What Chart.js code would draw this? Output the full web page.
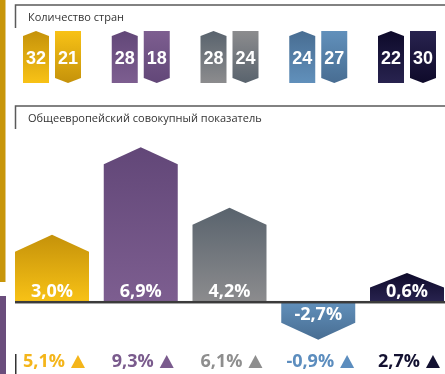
<!DOCTYPE html>
<html lang="ru">
<head>
<meta charset="utf-8">
<title>Количество стран</title>
<script src="https://cdn.jsdelivr.net/npm/chart.js@4/dist/chart.umd.min.js"></script>
<style>
  html, body { margin: 0; padding: 0; background: #fff; }
  #wrap { position: relative; width: 445px; height: 374px; }
</style>
</head>
<body>
<div id="wrap"><canvas id="chart"></canvas></div>
<script>
'use strict';

// ── data ────────────────────────────────────────────────────────────────
const groups = ['Группа 1', 'Группа 2', 'Группа 3', 'Группа 4', 'Группа 5'];
const countsBefore = [32, 28, 28, 24, 22];
const countsAfter = [21, 18, 24, 27, 30];
const totalIndex = [3.0, 6.9, 4.2, -2.7, 0.6];
const changeIndex = [5.1, 9.3, 6.1, -0.9, 2.7];

const titleCountries = 'Количество стран';
const titleIndex = 'Общеевропейский совокупный показатель';

// ── styles ──────────────────────────────────────────────────────────────
const palette = [
  { dark: '#c5920a', light: '#f8c216', text: '#f4b51a' },
  { dark: '#624778', light: '#7d5e90', text: '#7a5b8d' },
  { dark: '#59636d', light: '#8c8c8e', text: '#8e8e8e' },
  { dark: '#486d92', light: '#6190bb', text: '#5c8dbe' },
  { dark: '#0e0a2a', light: '#28234f', text: '#131131' },
];
const FONT_LABEL = 'bold 18px "Open Sans", "DejaVu Sans", sans-serif';
const FONT_BADGE = 'bold 18px "Liberation Sans", Arial, sans-serif';
const FONT_TITLE = '11px "Open Sans", "DejaVu Sans", sans-serif';
const fmt = v => v.toFixed(1).replace('.', ',') + '%';

// Linear scale that draws values below zero at a reduced rate
class SplitLinearScale extends Chart.LinearScale {
  static id = 'splitLinear';
  static defaults = Chart.LinearScale.defaults;

  _unit() {
    const r = this.options.negativeRate;
    return (this.bottom - this.top) / (this.max - this.min * r);
  }
  getPixelForValue(value) {
    const k = this._unit();
    const zero = this.top + this.max * k;
    const r = value < 0 ? this.options.negativeRate : 1;
    return zero - value * k * r;
  }
  getValueForPixel(pixel) {
    const k = this._unit();
    const zero = this.top + this.max * k;
    const v = (zero - pixel) / k;
    return v < 0 ? v / this.options.negativeRate : v;
  }
}
Chart.register(SplitLinearScale);

// pentagon: rectangle with a pointed end at tipY
function arrowPath(ctx, left, right, baseY, tipY, tip) {
  const dir = tipY < baseY ? 1 : -1;
  const cx = (left + right) / 2;
  ctx.beginPath();
  ctx.moveTo(left, baseY);
  ctx.lineTo(left, tipY + dir * tip);
  ctx.lineTo(cx, tipY);
  ctx.lineTo(right, tipY + dir * tip);
  ctx.lineTo(right, baseY);
  ctx.closePath();
}

function fillArrow(ctx, left, right, baseY, tipY, tip, col) {
  const g = ctx.createLinearGradient(0, tipY, 0, baseY);
  g.addColorStop(0, col.dark);
  g.addColorStop(1, col.light);
  arrowPath(ctx, left, right, baseY, tipY, tip);
  ctx.fillStyle = g;
  ctx.fill();
}

const infographic = {
  id: 'infographic',
  afterDatasetsDraw(chart) {
    const ctx = chart.ctx;
    const W = chart.width, H = chart.height;
    const meta = chart.getDatasetMeta(0);
    const zeroY = chart.scales.y.getPixelForValue(0);
    ctx.save();

    // side strips
    ctx.fillStyle = '#c8960a';
    ctx.fillRect(0, 0, 5.5, 282);
    ctx.fillStyle = '#6a4d7c';
    ctx.fillRect(0, 296, 6, H - 296);

    // section headers
    ctx.strokeStyle = '#5a5a5a';
    ctx.lineWidth = 1.5;
    [[5, titleCountries], [106, titleIndex]].forEach(([y, t]) => {
      ctx.beginPath();
      ctx.moveTo(15.5, y + 23);
      ctx.lineTo(15.5, y);
      ctx.lineTo(W, y);
      ctx.stroke();
      ctx.fillStyle = '#333';
      ctx.font = FONT_TITLE;
      ctx.textAlign = 'left';
      ctx.textBaseline = 'middle';
      ctx.fillText(t, 28, y + 13);
    });

    meta.data.forEach((bar, i) => {
      const col = palette[i];
      const half = bar.width / 2;
      const left = bar.x - half, right = bar.x + half;

      // country-count badges
      const bw = 26, top = 31, bottom = 83;
      const lx = bar.x - 16, rx = bar.x + 16;
      fillArrow(ctx, lx - bw / 2, lx + bw / 2, bottom, top, 5, col);
      fillArrow(ctx, rx - bw / 2, rx + bw / 2, top, bottom, 5, col);
      ctx.fillStyle = '#fff';
      ctx.font = FONT_BADGE;
      ctx.textAlign = 'center';
      ctx.textBaseline = 'alphabetic';
      ctx.fillText(String(countsBefore[i]), lx, 64);
      ctx.fillText(String(countsAfter[i]), rx, 64);

      // main bar
      const h = Math.abs(bar.base - bar.y);
      const tip = Math.min(17, h / 2);
      fillArrow(ctx, left, right, bar.base, bar.y, tip, col);
      ctx.fillStyle = '#fff';
      ctx.font = FONT_LABEL;
      const neg = totalIndex[i] < 0;
      ctx.fillText(fmt(totalIndex[i]), bar.x, neg ? bar.base + 18 : bar.base - 5);

      // change row with triangle marker
      const txt = fmt(changeIndex[i]);
      const tw = ctx.measureText(txt).width;
      const triW = 14, gap = 6;
      const x0 = bar.x + 2 - (tw + gap + triW) / 2;
      ctx.fillStyle = col.text;
      ctx.textAlign = 'left';
      ctx.fillText(txt, x0, 367);
      const tx = x0 + tw + gap;
      ctx.beginPath();
      ctx.moveTo(tx, 368);
      ctx.lineTo(tx + triW / 2, 355);
      ctx.lineTo(tx + triW, 368);
      ctx.closePath();
      ctx.fill();
    });

    // zero line
    ctx.fillStyle = '#3b3b3b';
    ctx.fillRect(meta.data[0].x - meta.data[0].width / 2, zeroY - 1, W, 2.5);

    // small marker at the change row
    ctx.fillStyle = '#333';
    ctx.fillRect(15, 354, 1.5, H - 354);
    ctx.restore();
  }
};

new Chart(document.getElementById('chart'), {
  type: 'bar',
  data: {
    labels: groups,
    datasets: [{
      data: totalIndex,
      backgroundColor: 'transparent',
      borderWidth: 0,
      barThickness: 74,
      minBarLength: 29,
      clip: false,
    }]
  },
  options: {
    responsive: true,
    maintainAspectRatio: false,
    animation: false,
    events: [],
    layout: { padding: { left: 52, right: 38, top: 145, bottom: 30 } },
    plugins: { legend: { display: false }, tooltip: { enabled: false } },
    scales: {
      x: { display: false, offset: false, grid: { display: false } },
      y: { type: 'splitLinear', display: false, min: -3, max: 7, negativeRate: 0.625 }
    }
  },
  plugins: [infographic]
});
</script>
</body>
</html>
